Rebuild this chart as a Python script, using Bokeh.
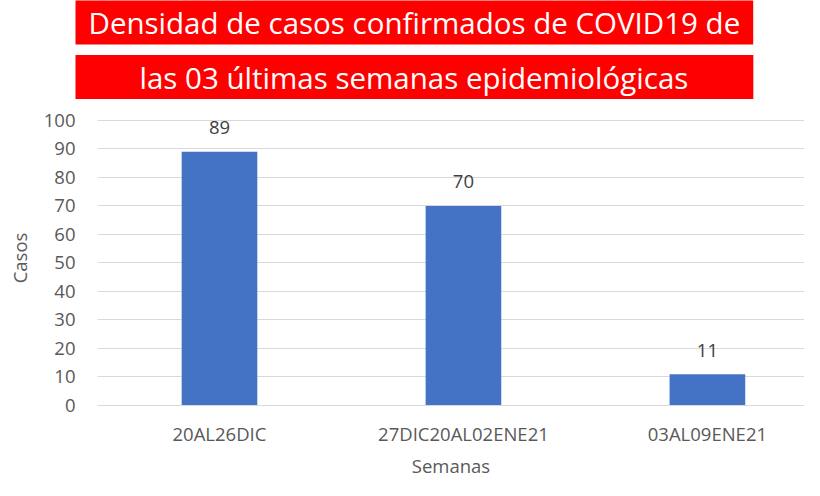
from bokeh.plotting import figure
from bokeh.models import ColumnDataSource, Range1d, FixedTicker, LabelSet, Title
from bokeh.core.properties import value
from bokeh.embed import file_html
from bokeh.resources import INLINE

# ---- data ----
semanas = ["20AL26DIC", "27DIC20AL02ENE21", "03AL09ENE21"]
casos = [89, 70, 11]
y_ticks = [0, 10, 20, 30, 40, 50, 60, 70, 80, 90, 100]
titulo_l1 = "Densidad de casos confirmados de COVID19 de"
titulo_l2 = "las 03 últimas semanas epidemiológicas"

FONT = "Open Sans"
GREY = "#595959"
FS = "18.5px"
RED = "#ff0000"

pos = [i + 0.5 for i in range(len(semanas))]
src = ColumnDataSource(dict(x=pos, y=casos, lab=[str(v) for v in casos]))

p = figure(width=804, height=480, output_backend="svg", toolbar_location=None,
           x_range=Range1d(0, 2.898), y_range=Range1d(0, 103.5),
           min_border_left=97, min_border_right=0, min_border_top=110,
           min_border_bottom=73)
p.title_location = None

# two stacked title boxes forming one red banner (closest to frame added first)
t2 = Title(text=titulo_l2, align="left", offset=-22, standoff=23,
           text_color="white", text_font=FONT, text_font_size="29.5px",
           text_font_style="normal", background_fill_color=RED,
           padding=dict(left=64, right=65, top=2, bottom=1))
t1 = Title(text=titulo_l1, align="left", offset=-22, standoff=-6,
           text_color="white", text_font=FONT, text_font_size="29.5px",
           text_font_style="normal", background_fill_color=RED,
           padding=dict(left=13, right=13, top=1, bottom=2))
p.add_layout(t2, "above")
p.add_layout(t1, "above")

p.outline_line_color = None
p.background_fill_color = "white"

p.vbar(x="x", top="y", width=0.31, source=src, fill_color="#4472C4", line_color=None)

labels = LabelSet(x="x", y="y", text="lab", source=src, text_align="center",
                  text_baseline="middle", y_offset=24, text_font_size=FS,
                  text_color="#404040", text_font=value(FONT))
p.add_layout(labels)

# y axis
p.yaxis.ticker = FixedTicker(ticks=y_ticks)
p.yaxis.axis_line_color = None
p.yaxis.major_tick_line_color = None
p.yaxis.major_tick_out = 0
p.yaxis.major_tick_in = 0
p.yaxis.minor_tick_line_color = None
p.yaxis.major_label_text_font_size = FS
p.yaxis.major_label_text_color = GREY
p.yaxis.major_label_text_font = FONT
p.yaxis.major_label_standoff = 22
p.yaxis.axis_label = "Casos"
p.yaxis.axis_label_text_font_size = FS
p.yaxis.axis_label_text_color = GREY
p.yaxis.axis_label_text_font = FONT
p.yaxis.axis_label_text_font_style = "normal"
p.yaxis.axis_label_standoff = 9

# x axis
p.xaxis.ticker = FixedTicker(ticks=pos)
p.xaxis.major_label_overrides = {pv: s for pv, s in zip(pos, semanas)}
p.xaxis.axis_line_color = "#d9d9d9"
p.xaxis.major_tick_line_color = None
p.xaxis.major_tick_out = 0
p.xaxis.major_tick_in = 0
p.xaxis.minor_tick_line_color = None
p.xaxis.major_label_text_font_size = FS
p.xaxis.major_label_text_color = GREY
p.xaxis.major_label_text_font = FONT
p.xaxis.major_label_standoff = 15
p.xaxis.axis_label = "Semanas"
p.xaxis.axis_label_text_font_size = FS
p.xaxis.axis_label_text_color = GREY
p.xaxis.axis_label_text_font = FONT
p.xaxis.axis_label_text_font_style = "normal"
p.xaxis.axis_label_standoff = 4

p.xgrid.grid_line_color = None
p.ygrid.grid_line_color = "#d9d9d9"
p.ygrid.grid_line_width = 1

open("out.html", "w").write(file_html(p, INLINE))
